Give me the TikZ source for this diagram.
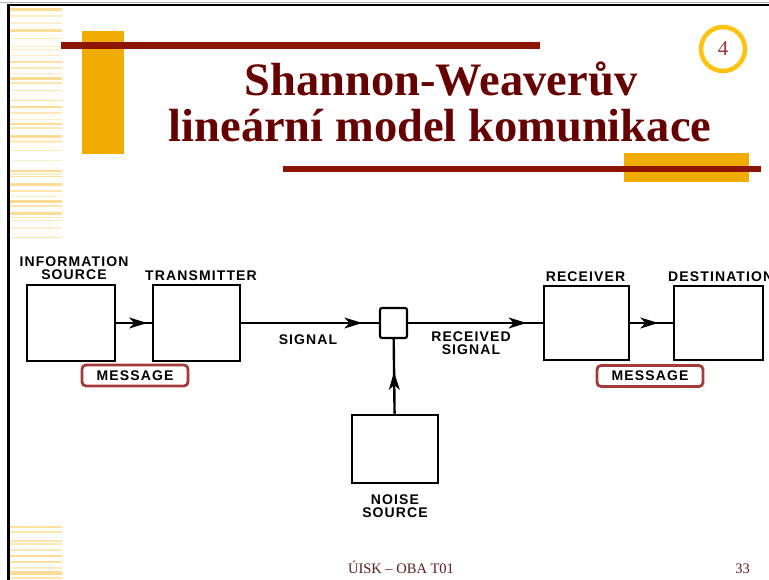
\documentclass[tikz,border=0pt]{standalone}
\usepackage{fontspec}
\setmainfont{Liberation Serif}
\newfontfamily\labelfont{Liberation Sans}[LetterSpace=8]
\usetikzlibrary{arrows.meta,positioning,decorations.markings}
\definecolor{titlered}{HTML}{660000}
\definecolor{barred}{HTML}{8B1500}
\definecolor{barorange}{HTML}{F0AC00}
\definecolor{ringgold}{HTML}{FFC20E}
\definecolor{stripe}{HTML}{FFD98A}
\definecolor{msgred}{HTML}{A33A3A}
\definecolor{numred}{HTML}{96383A}
\definecolor{footred}{HTML}{5A1E1E}

\begin{document}
\begin{tikzpicture}[x=1pt,y=-1pt,
  block/.style={draw,line width=2.5pt,inner sep=0pt},
  lbl/.style={font=\labelfont\bfseries\fontsize{14}{13.5}\selectfont,inner sep=0pt,align=center},
  msgbox/.style={draw=msgred,line width=2.8pt,rounded corners=4pt,minimum width=106pt,
    minimum height=21pt,inner sep=0pt,font=\labelfont\bfseries\fontsize{14}{13.5}\selectfont},
  flow/.style={line width=2.4pt,postaction={decorate},
    decoration={markings,mark=at position #1 with {\arrow[line width=1.5pt]{Stealth[length=18pt,width=11pt,inset=5pt]}}}},
  title/.style={font=\bfseries\fontsize{46.5}{47}\selectfont,text=titlered,anchor=base,inner sep=0pt},
  foot/.style={font=\fontsize{14.5}{15}\selectfont,text=footred,anchor=base,inner sep=0pt}]
  \useasboundingbox (0,0) rectangle (769,580);
  \fill[white] (0,0) rectangle (769,580);
  % stripes on the left edge
  \foreach \ya/\yb/\op in {8/11/0.9,15/17/0.5,22/24/0.4,29/32/0.9,38/39.5/0.6,46/47.5/0.5,49/50.5/0.5,
      55/56.5/0.5,61/63/0.8,67/69/0.6,73/74.5/0.4,77/80/0.9,82/84/0.7,90/91.5/0.7,100/101.5/0.7,
      106/108.5/0.9,112/114/0.6,119/120.5/0.5,123/125.5/0.9,127/129/0.6,135/138/0.9,140/143/0.5,
      150/151.5/0.6,160/161.5/0.4,170/172/0.9,173/175/0.4,176/177.5/0.7,183/186/0.9,190/192/0.7,
      196/197.5/0.5,200/203/0.9,205/207/0.7,212/215/0.9,217/218.5/0.6,220/221.5/0.6,227/229/0.4,
      237/238.5/0.7,526/528/0.8,531/533/0.7,540/541.5/0.7,543/544.5/0.6,549/550.5/0.6,555/557/0.9,
      561/563/0.8,567/568.5/0.5,571/575/0.9,577/578.5/0.7}
    \fill[stripe,opacity=\op] (10,\ya) rectangle (62,\yb);
  % frame
  \draw[gray!60,line width=1pt] (0,2.5) -- (769,2.5);
  \draw[black,line width=2.5pt] (8,5) -- (769,5);
  \draw[black,line width=2.5pt] (8.5,4) -- (8.5,580);
  % bars
  \fill[barorange] (82,31) rectangle (124,154);
  \fill[barred] (61,42) rectangle (540,49);
  \fill[barorange] (624,153) rectangle (749,182);
  \fill[barred] (283,166) rectangle (761,172.5);
  \node[draw=ringgold,line width=4.5pt,circle,minimum size=44pt,inner sep=0pt,
    font=\fontsize{21}{21}\selectfont,text=numred] (num) at (723,49) {4};
  % title
  \node[title] (title1) at (441,96) {Shannon-Weaverův};
  \node[title] (title2) at (440,142) {lineární model komunikace};
  % diagram
  \node[block,minimum width=88pt,minimum height=76pt] (info) at (71,323) {};
  \node[block,minimum width=87pt,minimum height=76pt] (trans) at (196.5,323) {};
  \node[block,minimum width=27pt,minimum height=30pt,line width=2.2pt,rounded corners=2pt] (mix) at (393.5,323) {};
  \node[block,minimum width=86pt,minimum height=68pt] (noise) at (395,449) {};
  \node[block,minimum width=85pt,minimum height=74pt] (recv) at (586.5,323) {};
  \node[block,minimum width=89pt,minimum height=74pt] (dest) at (718.5,323) {};
  \node[lbl] (infolbl) at (74,268) {INFORMATION\\SOURCE};
  \node[lbl] (translbl) at (201,276) {TRANSMITTER};
  \node[lbl] (sigl) at (308,340) {SIGNAL};
  \node[lbl] (rsigl) at (471,343) {RECEIVED\\SIGNAL};
  \node[lbl] (noiselbl) at (395,506) {NOISE\\SOURCE};
  \node[lbl] (recvlbl) at (585.5,277) {RECEIVER};
  \node[lbl,anchor=west] (destlbl) at (668,277) {DESTINATION};
  \node[msgbox] (msg1) at (135,375.5) {MESSAGE};
  \node[msgbox] (msg2) at (650,376) {MESSAGE};
  \draw[flow=0.87] (info) -- (trans);
  \draw[flow=0.88] (trans) -- (mix);
  \draw[flow=0.88] (mix) -- (recv);
  \draw[flow=0.56] (noise) -- (mix);
  \draw[flow=0.66] (recv) -- (dest);
  % footer
  \node[foot] (footer) at (401,573) {ÚISK – OBA T01};
  \node[foot,anchor=base east] (page) at (750,573) {33};
\end{tikzpicture}
\end{document}
